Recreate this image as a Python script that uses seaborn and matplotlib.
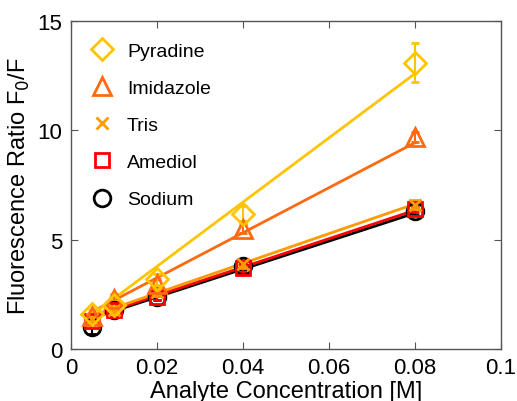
import numpy as np
import matplotlib
matplotlib.use("Agg")
import matplotlib.pyplot as plt
import seaborn as sns

conc = [0.005, 0.01, 0.02, 0.04, 0.08]

names = ["Pyradine", "Imidazole", "Tris", "Amediol", "Sodium"]
pyradine = [1.6, 2.0, 3.2, 6.2, 13.1]
imidazole = [1.5, 2.3, 3.0, 5.5, 9.7]
tris = [1.4, 1.8, 2.6, 3.9, 6.6]
amediol = [1.3, 1.8, 2.4, 3.7, 6.4]
sodium = [1.0, 1.8, 2.4, 3.8, 6.3]

pyradine_err = [0.2, 0.2, 0.25, 0.35, 0.9]
imidazole_err = [0.15, 0.2, 0.2, 0.2, 0.25]
tris_err = [0.15, 0.15, 0.15, 0.2, 0.2]
amediol_err = [0.1, 0.1, 0.15, 0.15, 0.15]
sodium_err = [0.3, 0.15, 0.15, 0.15, 0.15]

# linear fit (slope, intercept)
fit_slope = [147, 103, 68, 65, 64]
fit_icpt = [0.84, 1.2, 1.2, 1.15, 1.1]

colors = ["#FFC400", "#FF6A10", "#FF9A00", "#FF0000", "#000000"]
markers = ["D", "^", "x", "s", "o"]
msizes = [11, 13, 8, 10, 12]

sns.set_style("ticks")
plt.rcParams["font.family"] = ["Liberation Sans", "DejaVu Sans"]
plt.rcParams["text.color"] = "black"
plt.rcParams["axes.labelcolor"] = "black"
plt.rcParams["xtick.labelcolor"] = "black"
plt.rcParams["ytick.labelcolor"] = "black"

fig = plt.figure(figsize=(5.17, 4.02), dpi=100)
ax = fig.add_axes([0.137, 0.129, 0.832, 0.816])

series = [pyradine, imidazole, tris, amediol, sodium]
errs = [pyradine_err, imidazole_err, tris_err, amediol_err, sodium_err]

order = [4, 3, 2, 1, 0]
for i in order:
    x = np.array(conc)
    fit = fit_slope[i] * x + fit_icpt[i]
    sns.lineplot(x=x, y=fit, ax=ax, color=colors[i], lw=2, zorder=2)
for i in order:
    ax.errorbar(conc, series[i], yerr=errs[i], fmt=markers[i],
                color=colors[i], mfc="none", mec=colors[i],
                ms=msizes[i], mew=2, elinewidth=1.5, capsize=3,
                zorder=3)

leg_h = [plt.Line2D([], [], ls="none", marker=markers[i], color=colors[i],
                    mfc="none", ms=msizes[i], mew=2) for i in range(5)]
ax.legend(leg_h, names, loc="upper left", frameon=False, fontsize=14,
          labelspacing=1.0, handletextpad=0.5, borderaxespad=0.7,
          handlelength=1.6, labelcolor="black",
          bbox_to_anchor=(-0.014, 1.0))

ax.set_xlim(0, 0.1)
ax.set_ylim(0, 15)
ax.set_xticks([0, 0.02, 0.04, 0.06, 0.08, 0.1])
ax.set_xticklabels(["0", "0.02", "0.04", "0.06", "0.08", "0.1"])
ax.set_yticks([0, 5, 10, 15])
ax.tick_params(direction="in", top=True, right=True, labelsize=16,
               length=5, color="#555555", pad=6)
for s in ax.spines.values():
    s.set_color("#555555")
    s.set_linewidth(1)

ax.set_xlabel("Analyte Concentration [M]", fontsize=17, labelpad=1)
ax.set_ylabel("Fluorescence Ratio F$_0$/F", fontsize=17, labelpad=4)

fig.savefig("out.png", dpi=100)
